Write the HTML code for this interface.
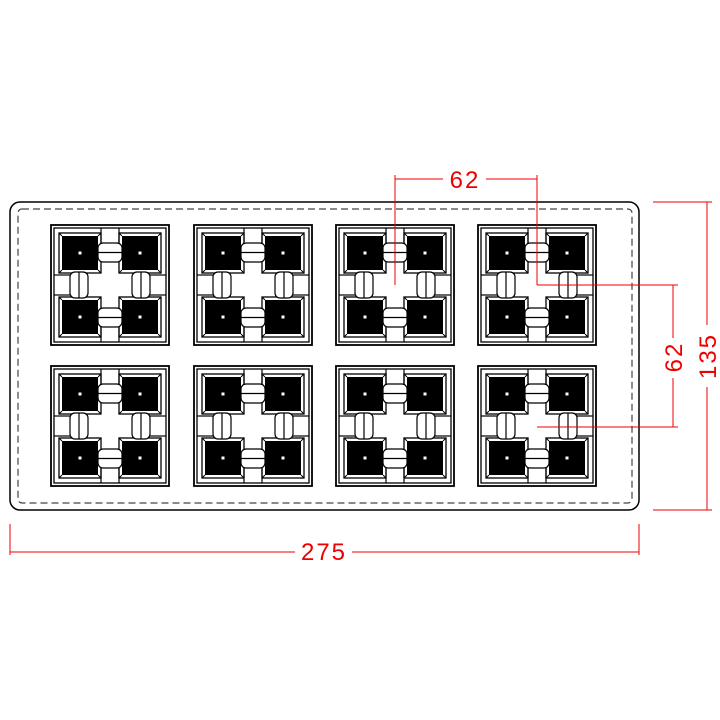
<!DOCTYPE html>
<html><head><style>html,body{margin:0;padding:0;background:#fff}svg{display:block}</style></head>
<body>
<svg width="720" height="720" viewBox="0 0 720 720" xmlns="http://www.w3.org/2000/svg">
<defs>
<g id="q">
  <rect x="0" y="0" width="42" height="40" fill="#fff" stroke="#000" stroke-width="1.3"/>
  <rect x="3" y="3" width="36" height="34" fill="#000"/>
  <line x1="0" y1="0" x2="3" y2="3" stroke="#000"/>
  <line x1="42" y1="0" x2="39" y2="3" stroke="#000"/>
  <line x1="0" y1="40" x2="3" y2="37" stroke="#000"/>
  <line x1="42" y1="40" x2="39" y2="37" stroke="#000"/>
  <rect x="19.5" y="18.5" width="3" height="3" fill="#fff"/>
</g>
<g id="m">
  <rect x="0" y="0" width="118" height="120" fill="#fff" stroke="#000" stroke-width="1.8"/>
  <rect x="3" y="3" width="112" height="114" fill="#fff" stroke="#000" stroke-width="1.3"/>
  <use href="#q" x="8" y="8"/>
  <use href="#q" x="68" y="8"/>
  <use href="#q" x="8" y="72"/>
  <use href="#q" x="68" y="72"/>
  <g stroke="#000" stroke-width="1.2" fill="#fff">
  <!-- top/bottom connectors -->
  <line x1="50" y1="3" x2="50" y2="18"/><line x1="68" y1="3" x2="68" y2="18"/>
  <rect x="47" y="18" width="24" height="19" rx="5"/>
  <line x1="47" y1="27.5" x2="71" y2="27.5"/>
  <line x1="50" y1="102" x2="50" y2="117"/><line x1="68" y1="102" x2="68" y2="117"/>
  <rect x="47" y="83" width="24" height="19" rx="5"/>
  <line x1="47" y1="92.5" x2="71" y2="92.5"/>
  <!-- left/right connectors -->
  <line x1="3" y1="50" x2="19" y2="50"/><line x1="3" y1="70" x2="19" y2="70"/>
  <rect x="19" y="47" width="18" height="26" rx="5"/>
  <line x1="28" y1="47" x2="28" y2="73"/>
  <line x1="99" y1="50" x2="115" y2="50"/><line x1="99" y1="70" x2="115" y2="70"/>
  <rect x="81" y="47" width="18" height="26" rx="5"/>
  <line x1="90" y1="47" x2="90" y2="73"/>
  </g>
</g>
</defs>
<rect x="10" y="202" width="629" height="308" rx="10" fill="#fff" stroke="#000" stroke-width="1.5"/>
<rect x="18" y="209" width="614" height="294" rx="4" fill="none" stroke="#444" stroke-width="1.2" stroke-dasharray="7,4"/>
<use href="#m" x="51" y="225"/>
<use href="#m" x="194" y="225"/>
<use href="#m" x="336" y="225"/>
<use href="#m" x="478" y="225"/>
<use href="#m" x="51" y="366"/>
<use href="#m" x="194" y="366"/>
<use href="#m" x="336" y="366"/>
<use href="#m" x="478" y="366"/>
<g stroke="#e00" stroke-width="1" fill="none">
  <line x1="10" y1="524" x2="10" y2="555"/>
  <line x1="639" y1="524" x2="639" y2="555"/>
  <line x1="10" y1="552" x2="295" y2="552"/>
  <line x1="352" y1="552" x2="639" y2="552"/>
  <line x1="653" y1="202" x2="712" y2="202"/>
  <line x1="653" y1="510" x2="712" y2="510"/>
  <line x1="707" y1="202" x2="707" y2="325"/>
  <line x1="707" y1="387" x2="707" y2="510"/>
  <line x1="537" y1="285" x2="678" y2="285"/>
  <line x1="537" y1="427" x2="678" y2="427"/>
  <line x1="673" y1="285" x2="673" y2="338"/>
  <line x1="673" y1="378" x2="673" y2="427"/>
  <line x1="395" y1="175" x2="395" y2="285"/>
  <line x1="537" y1="175" x2="537" y2="285"/>
  <line x1="395" y1="179" x2="443" y2="179"/>
  <line x1="486" y1="179" x2="537" y2="179"/>
</g>
<g fill="#e00" font-family="Liberation Sans, sans-serif" font-size="24" letter-spacing="2">
  <text x="324" y="560" text-anchor="middle">275</text>
  <text x="465" y="188" text-anchor="middle">62</text>
  <text transform="translate(682,357) rotate(-90)" text-anchor="middle">62</text>
  <text transform="translate(716,356) rotate(-90)" text-anchor="middle">135</text>
</g>
</svg>
</body></html>
